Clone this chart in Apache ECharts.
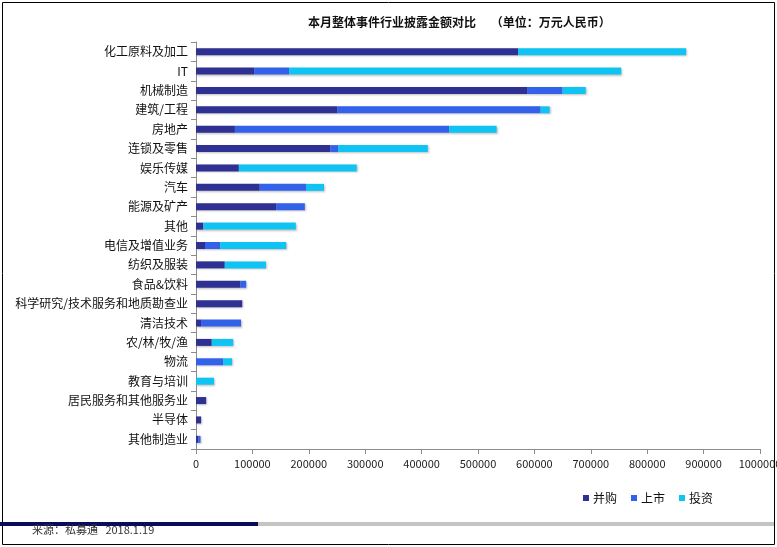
<!DOCTYPE html>
<html>
<head>
<meta charset="utf-8">
<script src="https://cdn.jsdelivr.net/npm/echarts@6/dist/echarts.min.js"></script>
<style>
html,body{margin:0;padding:0;background:#fff;}
#chart{width:777px;height:547px;}
</style>
</head>
<body>
<div id="chart"></div>
<script>
const categories = ['化工原料及加工','IT','机械制造','建筑/工程','房地产','连锁及零售','娱乐传媒','汽车','能源及矿产','其他','电信及增值业务','纺织及服装','食品&饮料','科学研究/技术服务和地质勘查业','清洁技术','农/林/牧/渔','物流','教育与培训','居民服务和其他服务业','半导体','其他制造业'];
const mergers = [571000,103000,587000,251000,69000,238000,76000,113000,142000,13000,16000,51000,79000,82000,9000,28000,0,0,18000,9000,4000];
const listings = [0,62000,63000,360000,380000,14000,0,82000,51000,0,27000,0,10000,0,71000,0,48000,0,0,0,4000];
const investments = [298000,589000,41000,16000,84000,159000,209000,32000,0,164000,117000,73000,0,0,0,38000,16000,32000,0,0,0];
const seriesNames = ['并购','上市','投资'];
const xTicks = {min:0, max:1000000, interval:100000};

const colors = ['#2E3192','#3461EA','#0FC4F3'];
const font = '"Noto Sans CJK SC","Noto Sans",sans-serif';
const chart = echarts.init(document.getElementById('chart'), null, {renderer:'canvas'});

const dataSets = [mergers, listings, investments];
const series = seriesNames.map((name, i) => ({
  name: name,
  type: 'bar',
  stack: 'total',
  barWidth: 7,
  data: dataSets[i],
  itemStyle: {
    color: colors[i],
    shadowColor: 'rgba(0,0,0,0.25)',
    shadowBlur: 2,
    shadowOffsetX: 1,
    shadowOffsetY: 1
  },
  emphasis: {disabled: true},
  animation: false
}));

chart.setOption({
  animation: false,
  textStyle: {fontFamily: font},
  title: {
    text: '本月整体事件行业披露金额对比　 （单位：万元人民币）',
    left: 303,
    top: 11,
    textStyle: {fontSize: 12, fontWeight: 'bold', color: '#111', fontFamily: font}
  },
  legend: {
    data: seriesNames,
    left: 578,
    top: 487,
    icon: 'rect',
    itemWidth: 6,
    itemHeight: 6,
    itemGap: 14,
    textStyle: {fontSize: 12, color: '#111', fontFamily: font, padding: [0,0,0,-1]}
  },
  grid: {left: 196, right: 17, top: 42, bottom: 98, containLabel: false, outerBoundsMode: 'none'},
  xAxis: {
    type: 'value',
    min: xTicks.min,
    max: xTicks.max,
    interval: xTicks.interval,
    axisLine: {show: true, lineStyle: {color: '#8c8c8c', width: 1}},
    axisTick: {show: true, length: 5, lineStyle: {color: '#8c8c8c'}},
    splitLine: {show: false},
    axisLabel: {fontSize: 11, color: '#222', margin: 9, fontFamily: font, formatter: v => String(v), hideOverlap: false}
  },
  yAxis: {
    type: 'category',
    inverse: true,
    data: categories,
    axisLine: {show: true, lineStyle: {color: '#8c8c8c', width: 1}},
    axisTick: {show: true, length: 5, alignWithLabel: false, lineStyle: {color: '#8c8c8c'}},
    axisLabel: {fontSize: 12, color: '#111', margin: 8, fontFamily: font}
  },
  series: series,
  graphic: [
    {type:'rect', left:0, top:0, shape:{x:1.5, y:1.5, width:772, height:542}, style:{fill:'none', stroke:'#000', lineWidth:1}, z:100},
    {type:'rect', shape:{x:0, y:522, width:258, height:4}, style:{fill:'#0B0B5E'}, z:100},
    {type:'rect', shape:{x:258, y:522, width:516, height:4}, style:{fill:'#C4C4C4'}, z:100},
    {type:'text', x:32, y:524, style:{text:'来源：私募通   2018.1.19', fill:'#333', font:'11px ' + font}, z:100}
  ]
});
</script>
</body>
</html>
